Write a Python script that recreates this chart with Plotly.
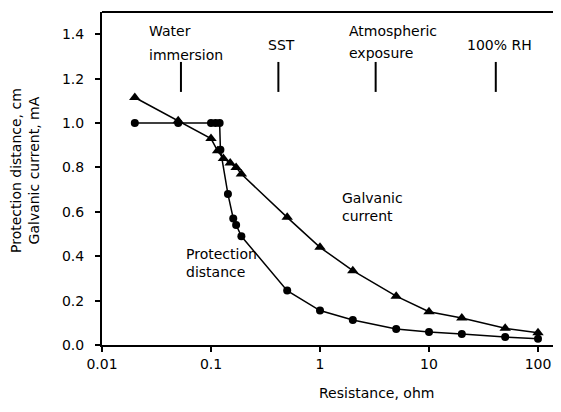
import numpy as np
import plotly.graph_objects as go

# Galvanic current (triangles)
gal_x = [0.02, 0.05, 0.1, 0.115, 0.13, 0.15, 0.17, 0.19, 0.5, 1, 2, 5, 10, 20, 50, 100]
gal_y = [1.115, 1.01, 0.93, 0.875, 0.84, 0.82, 0.80, 0.77, 0.575, 0.44, 0.335, 0.22, 0.15, 0.122, 0.075, 0.055]

# Protection distance (circles)
pd_x = [0.02, 0.05, 0.1, 0.11, 0.12, 0.122, 0.143, 0.16, 0.17, 0.19, 0.5, 1, 2, 5, 10, 20, 50, 100]
pd_y = [1.0, 1.0, 1.0, 1.0, 1.0, 0.88, 0.68, 0.57, 0.54, 0.49, 0.245, 0.155, 0.113, 0.072, 0.058, 0.05, 0.036, 0.028]

# Exposure regimes marked at the top
regime_x = [0.053, 0.415, 3.24, 41.0]

x_ticks = [0.01, 0.1, 1, 10, 100]
x_ticklabels = ["0.01", "0.1", "1", "10", "100"]
y_ticks = [0.0, 0.2, 0.4, 0.6, 0.8, 1.0, 1.2, 1.4]

FONT = "DejaVu Sans"
OFF = 8  # default page body margin
W, H = 561 - OFF, 412 - OFF
L, R, T, B = 102 - OFF, 6, 12 - OFF, 67
PLOT_BOTTOM_PAGE = 345
PLOT_H = H - T - B

fig = go.Figure()
fig.add_trace(go.Scatter(x=gal_x, y=gal_y, mode="lines+markers",
                         line=dict(color="black", width=1.5),
                         marker=dict(symbol="triangle-up", size=10, color="black"),
                         showlegend=False))
fig.add_trace(go.Scatter(x=pd_x, y=pd_y, mode="lines+markers",
                         line=dict(color="black", width=1.5),
                         marker=dict(symbol="circle", size=8, color="black"),
                         showlegend=False))

shapes = []
for xv in regime_x:
    shapes.append(dict(type="line", xref="x", yref="y", x0=xv, x1=xv, y0=1.14, y1=1.275,
                       line=dict(color="black", width=2)))
shapes.append(dict(type="line", xref="paper", yref="paper", x0=0, x1=1, y0=1, y1=1,
                   line=dict(color="black", width=2)))

def py(ypx):
    return (PLOT_BOTTOM_PAGE - ypx) / PLOT_H

annotations = []
label_specs = [
    ("Water", 0.053, 31, "left", -34),
    ("immersion", 0.053, 55, "left", -34),
    ("SST", 0.415, 45, "center", 3),
    ("Atmospheric", 3.24, 31, "left", -29),
    ("exposure", 3.24, 53, "left", -29),
    ("100% RH", 41.0, 45, "center", 4),
]
for text, xv, ypx, anchor, xs in label_specs:
    annotations.append(dict(text=text, x=np.log10(xv), xref="x", y=py(ypx), yref="paper",
                            showarrow=False, xanchor=anchor, yanchor="middle", xshift=xs,
                            font=dict(family=FONT, size=14, color="black")))

annotations.append(dict(text="Galvanic<br>current", x=np.log10(3.2), xref="x", y=0.62, yref="y",
                        showarrow=False, xanchor="left", yanchor="middle", align="left", xshift=-35,
                        font=dict(family=FONT, size=14, color="black")))
annotations.append(dict(text="Protection<br>distance", x=np.log10(0.2), xref="x", y=0.37, yref="y",
                        showarrow=False, xanchor="left", yanchor="middle", align="left", xshift=-60,
                        font=dict(family=FONT, size=14, color="black")))
# axis titles
annotations.append(dict(text="Resistance, ohm", x=np.log10(3.3), xref="x", y=py(393), yref="paper",
                        showarrow=False, xanchor="center", yanchor="middle",
                        font=dict(family=FONT, size=14, color="black")))
annotations.append(dict(text="Protection distance, cm<br>Galvanic current, mA", x=0, xref="paper",
                        xshift=25 - 102, y=py(171), yref="paper", textangle=-90,
                        showarrow=False, xanchor="center", yanchor="middle",
                        font=dict(family=FONT, size=14, color="black")))

fig.update_layout(
    width=W, height=H,
    margin=dict(l=L, r=R, t=T, b=B, autoexpand=False),
    paper_bgcolor="white", plot_bgcolor="white",
    font=dict(family=FONT, size=14, color="black"),
    shapes=shapes, annotations=annotations,
    xaxis=dict(type="log", range=[-2, 2.156], tickvals=x_ticks, ticktext=x_ticklabels,
               showline=True, linecolor="black", linewidth=2, ticks="outside", ticklen=5,
               tickcolor="black", tickwidth=1.5, showgrid=False, zeroline=False,
               tickfont=dict(family=FONT, size=14), automargin=False),
    yaxis=dict(range=[0, 1.5], tickvals=y_ticks, tickformat=".1f",
               showline=True, linecolor="black", linewidth=2, ticks="outside", ticklen=5,
               tickcolor="black", tickwidth=1.5, showgrid=False, zeroline=False,
               tickfont=dict(family=FONT, size=14), ticklabelstandoff=8, automargin=False),
)

fig.write_html("out.html")
